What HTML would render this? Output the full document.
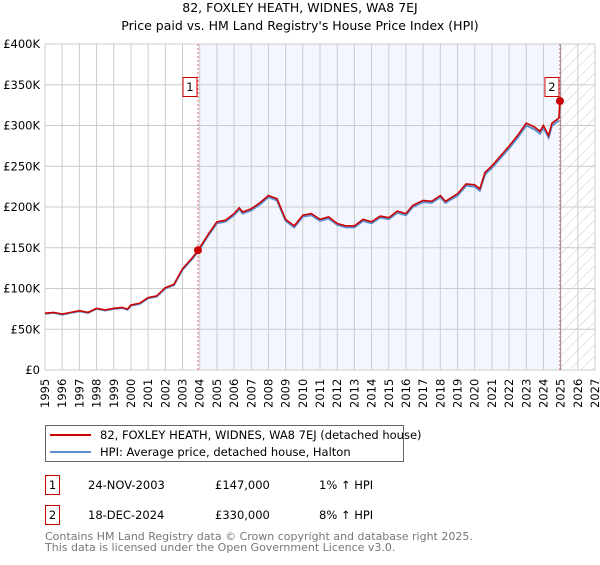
<!DOCTYPE html>
<html><head><meta charset="utf-8"><style>
body{margin:0;background:#fff;font-family:"Liberation Sans","DejaVu Sans",sans-serif;}
svg text{font-family:"DejaVu Sans","Liberation Sans",sans-serif;}
</style></head><body>
<svg id="c" width="600" height="560" xmlns="http://www.w3.org/2000/svg">
<defs><pattern id="hatch" width="8" height="8" patternUnits="userSpaceOnUse" patternTransform="rotate(45)"><line x1="0" y1="0" x2="0" y2="8" stroke="#ccc" stroke-width="1"/></pattern></defs>
<text x="300" y="12" text-anchor="middle" font-size="12.5" fill="#000">82, FOXLEY HEATH, WIDNES, WA8 7EJ</text>
<text x="300" y="30" text-anchor="middle" font-size="12.5" fill="#000">Price paid vs. HM Land Registry's House Price Index (HPI)</text>
<g id="plot"></g>
<g>
<rect x="45.5" y="425.5" width="358" height="36" fill="#fff" stroke="#666"/>
<line x1="50" y1="435" x2="91" y2="435" stroke="#c00" stroke-width="2"/>
<text x="100" y="439" font-size="11.5">82, FOXLEY HEATH, WIDNES, WA8 7EJ (detached house)</text>
<line x1="50" y1="452" x2="91" y2="452" stroke="#5b8fd0" stroke-width="2"/>
<text x="100" y="456" font-size="11.5">HPI: Average price, detached house, Halton</text>
</g>
<g>
<rect x="45.5" y="475.5" width="14" height="19" fill="#fff" stroke="#c00"/><text x="52.5" y="489" text-anchor="middle" font-size="11.5">1</text>
<text x="88" y="489" font-size="11.5">24-NOV-2003</text><text x="215" y="489" font-size="11.5">£147,000</text><text x="319" y="489" font-size="11.5">1% ↑ HPI</text>
<rect x="45.5" y="505.5" width="14" height="19" fill="#fff" stroke="#c00"/><text x="52.5" y="519" text-anchor="middle" font-size="11.5">2</text>
<text x="88" y="519" font-size="11.5">18-DEC-2024</text><text x="215" y="519" font-size="11.5">£330,000</text><text x="319" y="519" font-size="11.5">8% ↑ HPI</text>
</g>
<text x="45" y="540" font-size="11" fill="#777">Contains HM Land Registry data © Crown copyright and database right 2025.</text>
<text x="45" y="551" font-size="11" fill="#777">This data is licensed under the Open Government Licence v3.0.</text>
</svg>
<script>
const years=[1995,1995.5,1996,1996.5,1997,1997.5,1998,1998.5,1999,1999.5,1999.8,2000,2000.5,2001,2001.5,2002,2002.5,2003,2003.3,2003.6,2003.9,2004.5,2005,2005.5,2006,2006.3,2006.5,2007,2007.5,2008,2008.5,2009,2009.5,2010,2010.5,2011,2011.5,2012,2012.5,2013,2013.5,2014,2014.5,2015,2015.5,2016,2016.4,2017,2017.5,2018,2018.3,2019,2019.5,2020,2020.3,2020.6,2021,2021.5,2022,2022.5,2023,2023.5,2023.8,2024,2024.3,2024.5,2024.9];
const hpi=[69,70,68,70,72,70,75,73,75,76,74,79,81,88,90,100,104,123,130,137,145,165,180,182,190,197,192,196,203,212,208,183,175,188,190,183,186,178,175,175,183,180,187,185,193,190,200,206,205,212,205,214,226,225,220,240,248,260,272,285,300,295,290,297,285,300,306];
const sales=[{y:2003.9,v:147,l:"1"},{y:2024.96,v:330,l:"2"}];
const yTicks=[0,50,100,150,200,250,300,350,400];
const xTicks=[];for(let y=1995;y<=2027;y++)xTicks.push(y);
const X0=45,X1=595,Y0=370,Y1=44;
const sx=y=>X0+(y-1995)*(X1-X0)/32, sy=v=>Y0-v*(Y0-Y1)/400;
const NS="http://www.w3.org/2000/svg",g=document.getElementById('plot');
function mk(t,a,p){const e=document.createElementNS(NS,t);for(const k in a)e.setAttribute(k,a[k]);(p||g).appendChild(e);return e;}
let e=mk('rect',{x:sx(sales[0].y),y:Y1,width:sx(2025)-sx(sales[0].y),height:Y0-Y1,fill:'#f3f6fe'});


e=mk('rect',{x:sx(2025),y:Y1,width:X1-sx(2025),height:Y0-Y1,fill:'url(#hatch)'});


for(const t of xTicks){e=mk('line',{x1:sx(t),x2:sx(t),y1:Y1,y2:Y0,stroke:'#ccc'});


e=mk('text',{x:0,y:0,transform:`translate(${sx(t)+4},${Y0+38}) rotate(-90)`,'font-size':'11.5'});e.textContent=t;

}
for(const t of yTicks){e=mk('line',{x1:X0,x2:X1,y1:sy(t),y2:sy(t),stroke:'#ccc'});


e=mk('text',{x:40,y:sy(t)+4,'text-anchor':'end','font-size':'11.5'});e.textContent=t===0?'£0':'£'+t+'K';

}
e=mk('line',{x1:sx(2025),x2:sx(2025),y1:Y1,y2:Y0,stroke:'#999'});


for(const s of sales){e=mk('line',{x1:sx(s.y),x2:sx(s.y),y1:Y1,y2:Y0,stroke:'#e06666','stroke-dasharray':'2,2'});

}
const pts=a=>a.map((v,i)=>sx(years[i]).toFixed(1)+','+sy(v).toFixed(1)).join(' ');
e=mk('polyline',{points:pts(hpi),fill:'none',stroke:'#5b8fd0','stroke-width':2});


const red=hpi.map(v=>v*1.01);
let rp=pts(red)+' '+sx(sales[1].y).toFixed(1)+','+sy(sales[1].v).toFixed(1);
e=mk('polyline',{points:rp,fill:'none',stroke:'#c00','stroke-width':1.6});


for(const s of sales){e=mk('circle',{cx:sx(s.y),cy:sy(s.v),r:4,fill:'#c00'});


const bx=sx(s.y)-15;
e=mk('rect',{x:bx,y:77.5,width:14,height:19,fill:'#fff',stroke:'#c00'});


e=mk('text',{x:bx+7,y:91,'text-anchor':'middle','font-size':'11.5'});e.textContent=s.l;

}
</script>
</body></html>
